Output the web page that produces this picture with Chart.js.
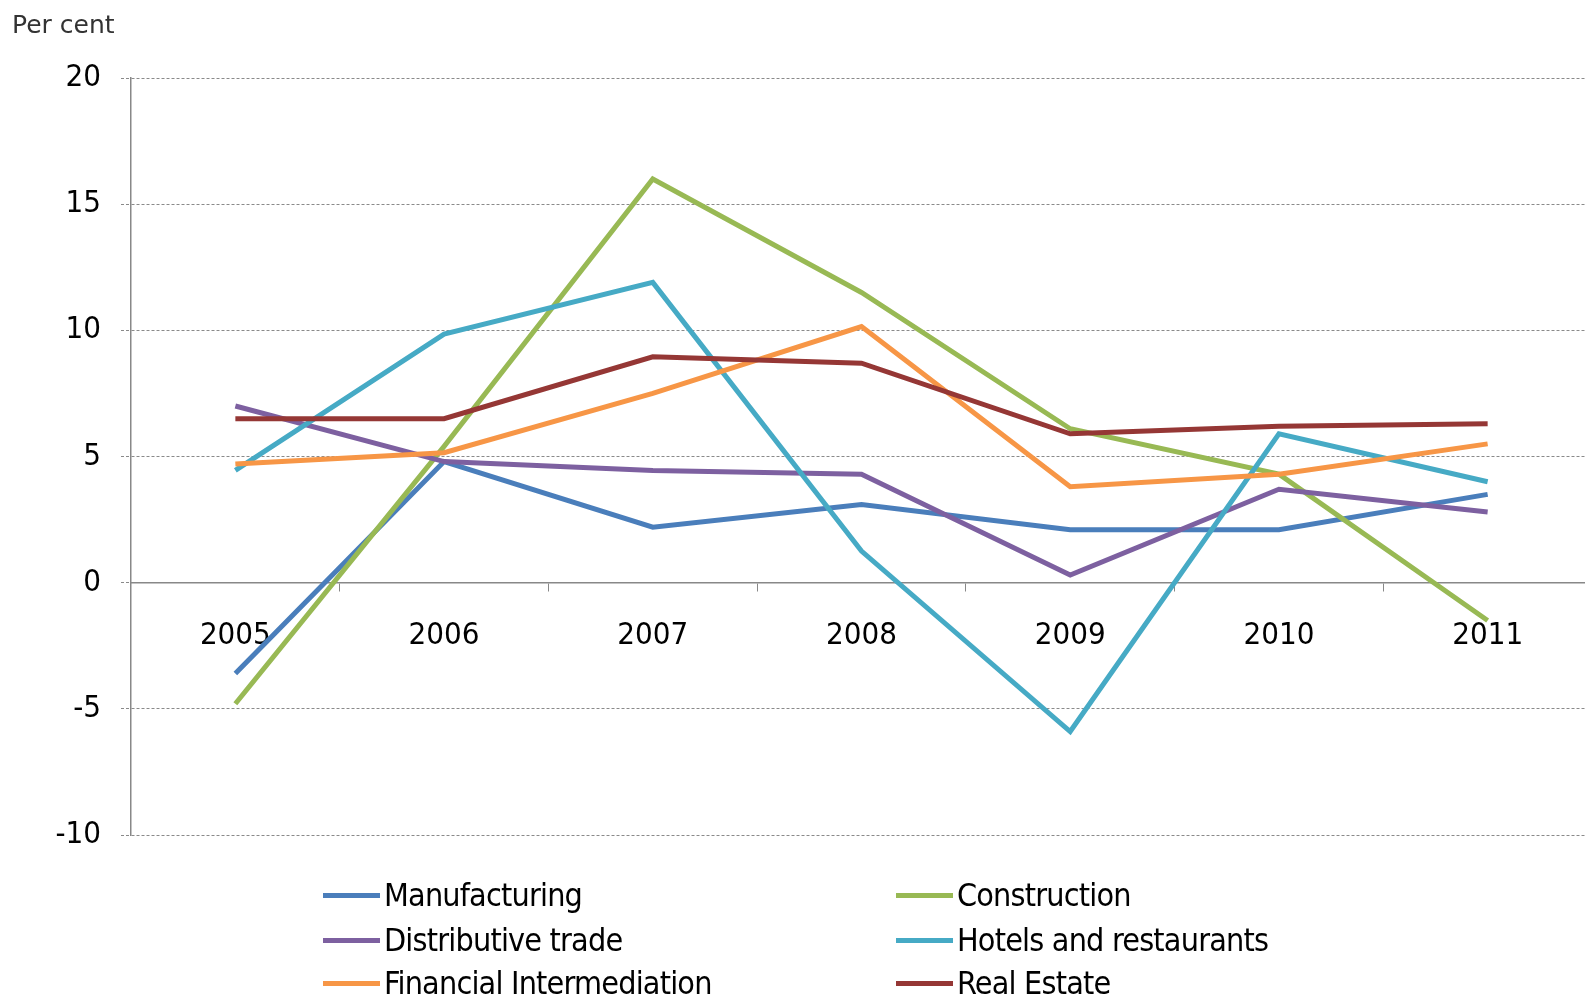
<!DOCTYPE html>
<html>
<head>
<meta charset="utf-8">
<script src="https://cdn.jsdelivr.net/npm/chart.js@4.4.0/dist/chart.umd.min.js"></script>
<style>
  html, body { margin: 0; padding: 0; background: #fff; overflow: hidden; }
  #wrap { position: relative; width: 1585px; height: 999px; overflow: hidden; }
  #chart { position: absolute; left: 0; top: 0; }
  .item {
    position: absolute; height: 40px; display: flex; align-items: center;
    font: 32px "Liberation Sans Narrow", "DejaVu Sans Condensed", sans-serif;
    letter-spacing: -0.8px;
    color: #000; white-space: nowrap;
  }
  .swatch { width: 57px; height: 5px; margin-right: 4px; }
</style>
</head>
<body>
<div id="wrap">
  <canvas id="chart" width="1600" height="999"></canvas>
  <div id="legend"></div>
</div>
<script>
// DATA
const years = ["2005", "2006", "2007", "2008", "2009", "2010", "2011"];
const manufacturing = [-3.6, 4.8, 2.2, 3.1, 2.1, 2.1, 3.5];
const construction = [-4.8, 5.4, 16.0, 11.5, 6.1, 4.3, -1.5];
const distributive = [7.0, 4.8, 4.45, 4.3, 0.3, 3.7, 2.8];
const hotels = [4.45, 9.85, 11.9, 1.25, -5.9, 5.9, 4.0];
const financial = [4.7, 5.15, 7.5, 10.15, 3.8, 4.3, 5.5];
const realEstate = [6.5, 6.5, 8.95, 8.7, 5.9, 6.2, 6.3];
const yTicks = [-10, -5, 0, 5, 10, 15, 20];

const series = [
  { label: "Manufacturing", data: manufacturing, color: "#4a7ebb" },
  { label: "Construction", data: construction, color: "#98b954" },
  { label: "Distributive trade", data: distributive, color: "#7d60a0" },
  { label: "Hotels and restaurants", data: hotels, color: "#46aac5" },
  { label: "Financial Intermediation", data: financial, color: "#f79646" },
  { label: "Real Estate", data: realEstate, color: "#953735" },
];

const narrow = '"Liberation Sans Narrow", "DejaVu Sans Condensed", sans-serif';

// "Per cent" unit label in the top-left corner
const unitLabel = {
  id: "unitLabel",
  afterDraw(chart) {
    const ctx = chart.ctx;
    ctx.save();
    ctx.font = '25px "DejaVu Sans", sans-serif';
    ctx.fillStyle = "#333";
    ctx.textBaseline = "middle";
    ctx.fillText("Per cent", 12, 26);
    ctx.restore();
  },
};

const config = {
  type: "line",
  data: {
    labels: years,
    datasets: series.map((s, i) => ({
      label: s.label,
      data: s.data,
      borderColor: s.color,
      backgroundColor: s.color,
      borderWidth: 5,
      pointRadius: 0,
      tension: 0,
      order: series.length - i, // later series sit on top
    })),
  },
  options: {
    responsive: false,
    animation: false,
    layout: { padding: { top: 78, bottom: 164, left: 0, right: 8 } },
    scales: {
      x: {
        type: "category",
        offset: true,
        position: { y: 0 }, // axis line runs along zero
        grid: {
          offset: true,
          drawOnChartArea: false,
          tickLength: 8,
          color: "#888",
        },
        border: { display: true, color: "#888", width: 1.5 },
        ticks: {
          padding: 27,
          color: "#000",
          font: { family: narrow, size: 31 },
          maxRotation: 0,
        },
      },
      y: {
        min: -10,
        max: 20,
        afterFit(scale) { scale.width = 131; },
        afterBuildTicks(scale) { scale.ticks = yTicks.map(v => ({ value: v })); },
        grid: {
          color: "#8a8a8a",
          lineWidth: 1,
          tickLength: 10,
          tickBorderDash: [3, 2],
        },
        border: { display: true, color: "#888", width: 1.5, dash: [3, 2] },
        ticks: {
          padding: 20,
          color: "#000",
          font: { family: narrow, size: 31 },
        },
      },
    },
    plugins: {
      legend: { display: false },
      tooltip: { enabled: false },
    },
  },
  plugins: [unitLabel],
};

const chart = new Chart(document.getElementById("chart"), config);

// LEGEND: two columns, row-major order
const legendEl = document.getElementById("legend");
const colX = [323, 896];
const rowY = [895, 940, 983];
chart.data.datasets.forEach((ds, i) => {
  const item = document.createElement("div");
  item.className = "item";
  item.style.left = colX[i % 2] + "px";
  item.style.top = (rowY[Math.floor(i / 2)] - 20) + "px";
  const sw = document.createElement("span");
  sw.className = "swatch";
  sw.style.background = ds.borderColor;
  const txt = document.createElement("span");
  txt.textContent = ds.label;
  item.appendChild(sw);
  item.appendChild(txt);
  legendEl.appendChild(item);
});
</script>
</body>
</html>
